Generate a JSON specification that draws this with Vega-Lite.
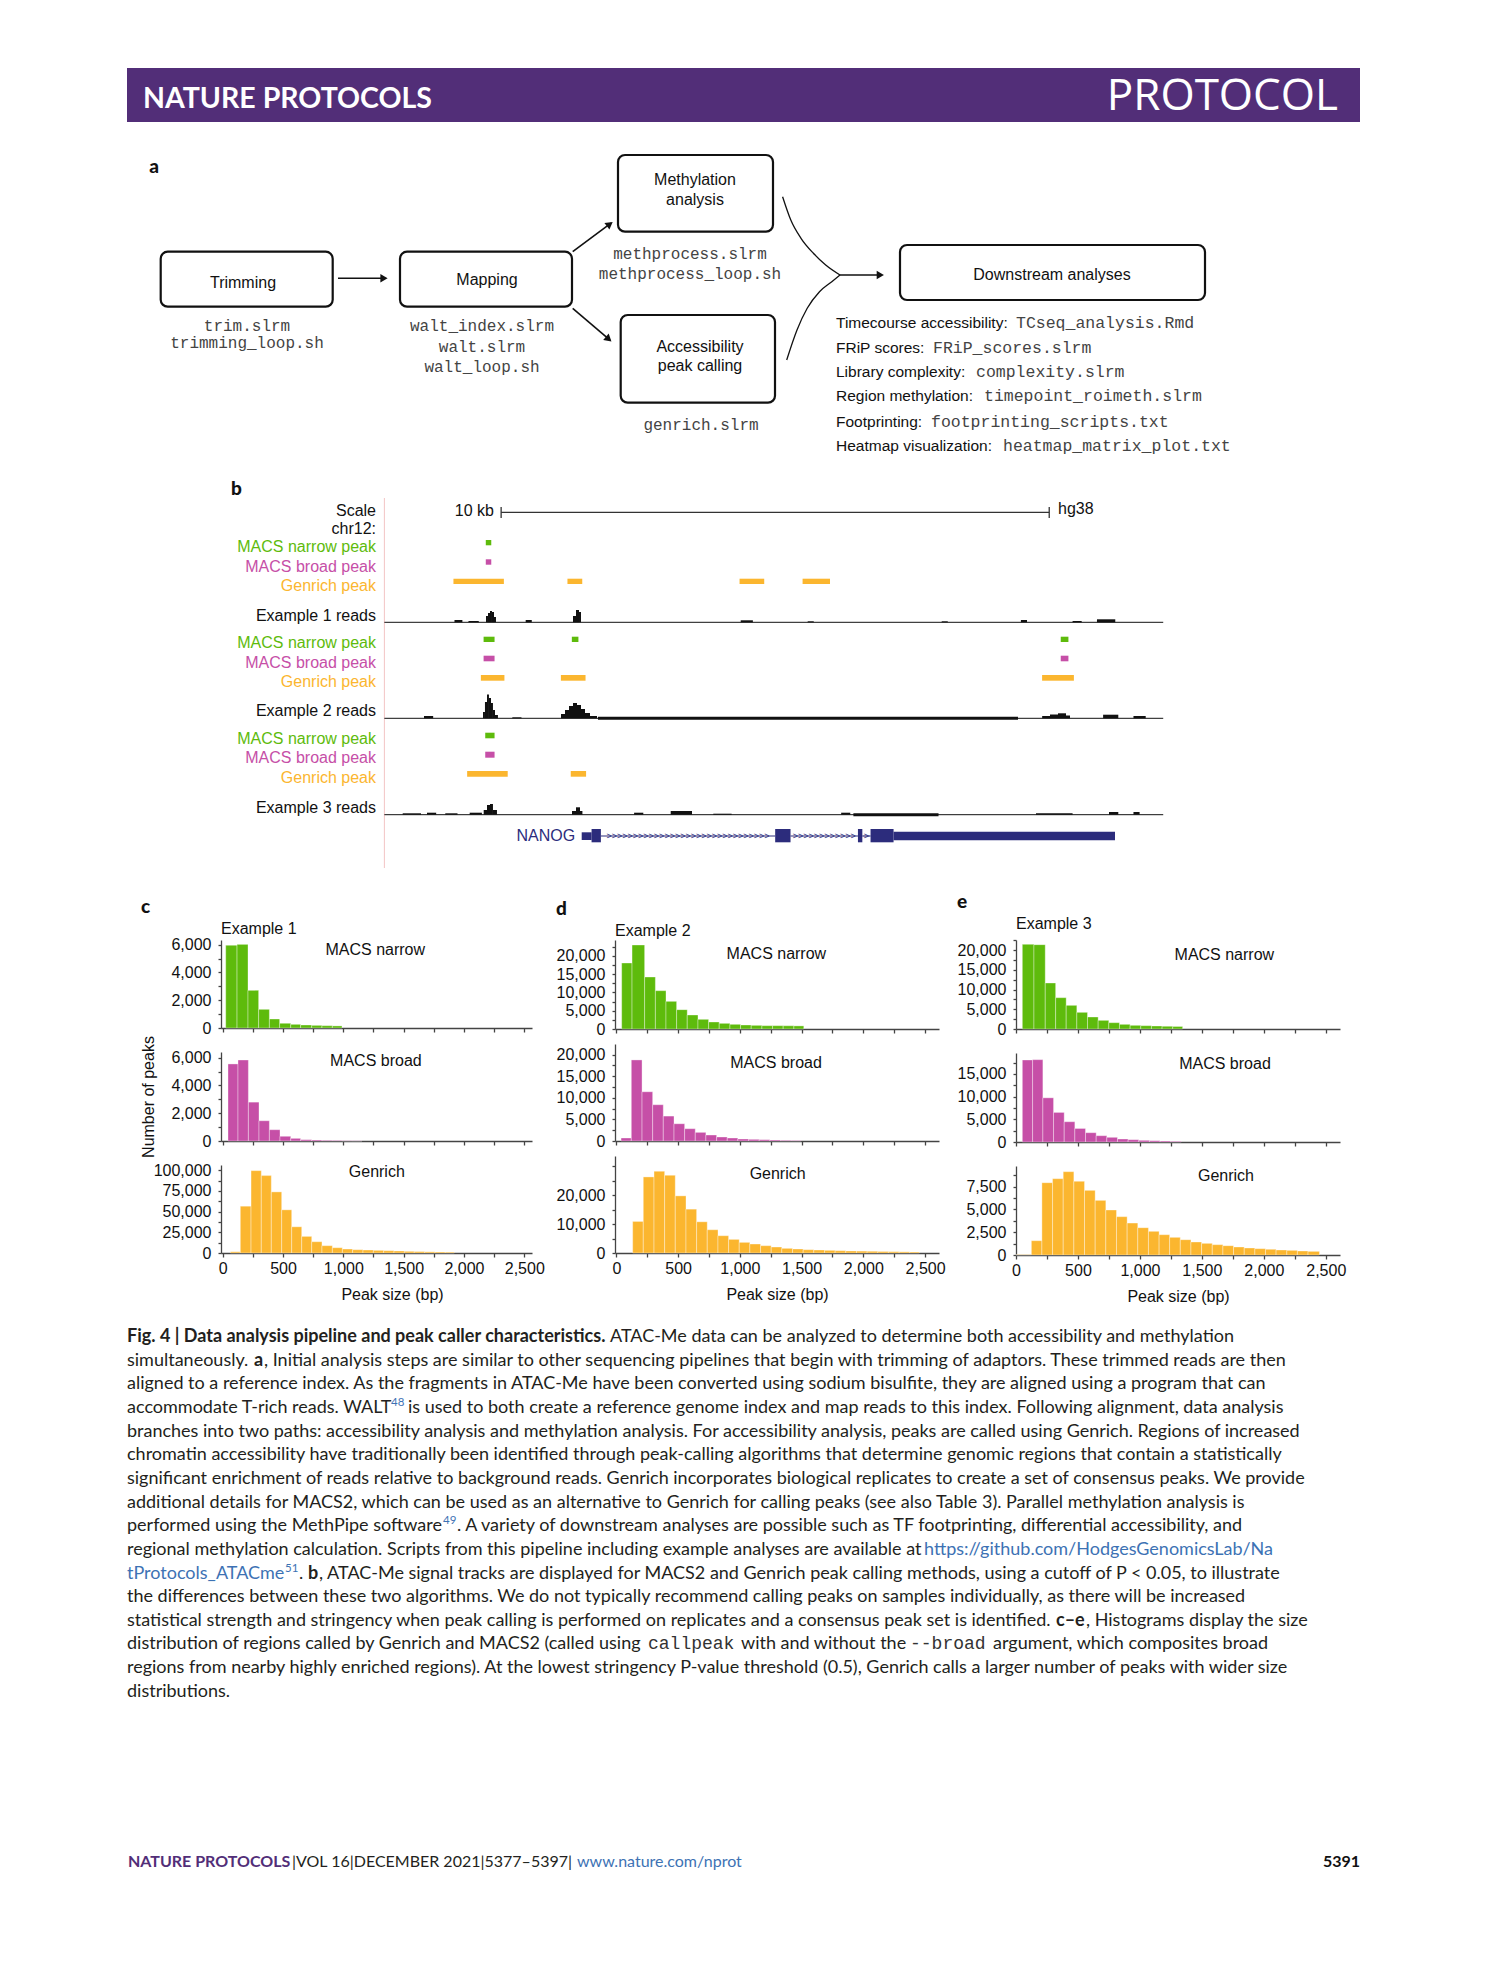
{
"$schema": "https://vega.github.io/schema/vega-lite/v6.json",
"background": "white",
"padding": {"left": 127, "top": 68, "right": 5, "bottom": 5},
"config": {
 "view": {"stroke": null},
 "font": "Liberation Sans",
 "axis": {"grid": false, "domainColor": "#444444", "tickColor": "#444444", "domainWidth": 1.3, "tickWidth": 1.3, "labelColor": "#111111", "labelFont": "Liberation Sans", "labelFontSize": 16, "titleFont": "Liberation Sans", "titleFontSize": 16, "titleFontWeight": "normal", "titleColor": "#111111", "labelOverlap": false, "labelFlush": false},
 "axisX": {"tickSize": 4, "labelPadding": 3, "titlePadding": 10, "labelOverlap": false},
 "axisY": {"tickSize": 3, "labelPadding": 7, "titlePadding": 14, "labelOverlap": false},
 "title": {"font": "Liberation Sans", "fontWeight": "normal", "fontSize": 16, "color": "#111111"}
},
"datasets": {
 "hist": [
  {"ex":1,"c":"n","s":25,"e":119,"n":5960},{"ex":1,"c":"n","s":119,"e":210,"n":6025},{"ex":1,"c":"n","s":210,"e":298,"n":2713},{"ex":1,"c":"n","s":298,"e":387,"n":1345},{"ex":1,"c":"n","s":387,"e":472,"n":648},{"ex":1,"c":"n","s":472,"e":564,"n":336},{"ex":1,"c":"n","s":564,"e":646,"n":264},{"ex":1,"c":"n","s":646,"e":738,"n":216},{"ex":1,"c":"n","s":738,"e":823,"n":190},{"ex":1,"c":"n","s":823,"e":909,"n":168},{"ex":1,"c":"n","s":909,"e":989,"n":150},
  {"ex":1,"c":"b","s":44,"e":127,"n":5544},{"ex":1,"c":"b","s":127,"e":213,"n":5830},{"ex":1,"c":"b","s":213,"e":301,"n":2796},{"ex":1,"c":"b","s":301,"e":387,"n":1458},{"ex":1,"c":"b","s":387,"e":475,"n":812},{"ex":1,"c":"b","s":475,"e":564,"n":335},{"ex":1,"c":"b","s":564,"e":646,"n":191},{"ex":1,"c":"b","s":646,"e":738,"n":96},{"ex":1,"c":"b","s":738,"e":823,"n":72},{"ex":1,"c":"b","s":823,"e":909,"n":48},{"ex":1,"c":"b","s":909,"e":989,"n":40},{"ex":1,"c":"b","s":989,"e":1072,"n":20},{"ex":1,"c":"b","s":1072,"e":1155,"n":15},
  {"ex":1,"c":"g","s":64,"e":146,"n":1500},{"ex":1,"c":"g","s":146,"e":235,"n":56600},{"ex":1,"c":"g","s":235,"e":320,"n":99600},{"ex":1,"c":"g","s":320,"e":403,"n":93600},{"ex":1,"c":"g","s":403,"e":489,"n":73900},{"ex":1,"c":"g","s":489,"e":572,"n":52200},{"ex":1,"c":"g","s":572,"e":655,"n":31700},{"ex":1,"c":"g","s":655,"e":738,"n":20100},{"ex":1,"c":"g","s":738,"e":823,"n":13650},{"ex":1,"c":"g","s":823,"e":909,"n":8850},{"ex":1,"c":"g","s":909,"e":992,"n":6400},{"ex":1,"c":"g","s":992,"e":1077,"n":4800},{"ex":1,"c":"g","s":1077,"e":1163,"n":4000},{"ex":1,"c":"g","s":1163,"e":1249,"n":3600},{"ex":1,"c":"g","s":1249,"e":1334,"n":3200},{"ex":1,"c":"g","s":1334,"e":1420,"n":2800},{"ex":1,"c":"g","s":1420,"e":1506,"n":2400},{"ex":1,"c":"g","s":1506,"e":1588,"n":2000},{"ex":1,"c":"g","s":1588,"e":1674,"n":1700},{"ex":1,"c":"g","s":1674,"e":1760,"n":1400},{"ex":1,"c":"g","s":1760,"e":1845,"n":1200},{"ex":1,"c":"g","s":1845,"e":1920,"n":1000},
  {"ex":2,"c":"n","s":43,"e":127,"n":18080},{"ex":2,"c":"n","s":127,"e":229,"n":23010},{"ex":2,"c":"n","s":229,"e":316,"n":14250},{"ex":2,"c":"n","s":316,"e":402,"n":10500},{"ex":2,"c":"n","s":402,"e":488,"n":7580},{"ex":2,"c":"n","s":488,"e":574,"n":5300},{"ex":2,"c":"n","s":574,"e":661,"n":3840},{"ex":2,"c":"n","s":661,"e":747,"n":2650},{"ex":2,"c":"n","s":747,"e":833,"n":1920},{"ex":2,"c":"n","s":833,"e":920,"n":1550},{"ex":2,"c":"n","s":920,"e":1006,"n":1280},{"ex":2,"c":"n","s":1006,"e":1092,"n":1100},{"ex":2,"c":"n","s":1092,"e":1179,"n":1000},{"ex":2,"c":"n","s":1179,"e":1265,"n":910},{"ex":2,"c":"n","s":1265,"e":1351,"n":910},{"ex":2,"c":"n","s":1351,"e":1438,"n":880},{"ex":2,"c":"n","s":1438,"e":1518,"n":850},
  {"ex":2,"c":"b","s":38,"e":121,"n":692},{"ex":2,"c":"b","s":121,"e":208,"n":18770},{"ex":2,"c":"b","s":208,"e":294,"n":11400},{"ex":2,"c":"b","s":294,"e":380,"n":8400},{"ex":2,"c":"b","s":380,"e":467,"n":5770},{"ex":2,"c":"b","s":467,"e":553,"n":4000},{"ex":2,"c":"b","s":553,"e":639,"n":2850},{"ex":2,"c":"b","s":639,"e":725,"n":2000},{"ex":2,"c":"b","s":725,"e":812,"n":1385},{"ex":2,"c":"b","s":812,"e":898,"n":923},{"ex":2,"c":"b","s":898,"e":984,"n":692},{"ex":2,"c":"b","s":984,"e":1071,"n":462},{"ex":2,"c":"b","s":1071,"e":1157,"n":385},{"ex":2,"c":"b","s":1157,"e":1243,"n":308},{"ex":2,"c":"b","s":1243,"e":1330,"n":231},{"ex":2,"c":"b","s":1330,"e":1416,"n":154},{"ex":2,"c":"b","s":1416,"e":1497,"n":120},
  {"ex":2,"c":"g","s":132,"e":218,"n":10920},{"ex":2,"c":"g","s":218,"e":305,"n":26320},{"ex":2,"c":"g","s":305,"e":391,"n":28280},{"ex":2,"c":"g","s":391,"e":477,"n":26900},{"ex":2,"c":"g","s":477,"e":564,"n":19770},{"ex":2,"c":"g","s":564,"e":650,"n":15170},{"ex":2,"c":"g","s":650,"e":736,"n":10800},{"ex":2,"c":"g","s":736,"e":823,"n":8050},{"ex":2,"c":"g","s":823,"e":909,"n":5980},{"ex":2,"c":"g","s":909,"e":995,"n":4710},{"ex":2,"c":"g","s":995,"e":1081,"n":3680},{"ex":2,"c":"g","s":1081,"e":1168,"n":3100},{"ex":2,"c":"g","s":1168,"e":1254,"n":2530},{"ex":2,"c":"g","s":1254,"e":1340,"n":2070},{"ex":2,"c":"g","s":1340,"e":1427,"n":1610},{"ex":2,"c":"g","s":1427,"e":1513,"n":1380},{"ex":2,"c":"g","s":1513,"e":1599,"n":1150},{"ex":2,"c":"g","s":1599,"e":1686,"n":1030},{"ex":2,"c":"g","s":1686,"e":1772,"n":920},{"ex":2,"c":"g","s":1772,"e":1858,"n":800},{"ex":2,"c":"g","s":1858,"e":1945,"n":690},{"ex":2,"c":"g","s":1945,"e":2031,"n":650},{"ex":2,"c":"g","s":2031,"e":2117,"n":575},{"ex":2,"c":"g","s":2117,"e":2203,"n":520},{"ex":2,"c":"g","s":2203,"e":2290,"n":460},{"ex":2,"c":"g","s":2290,"e":2376,"n":400},{"ex":2,"c":"g","s":2376,"e":2454,"n":340},
  {"ex":3,"c":"n","s":51,"e":145,"n":21430},{"ex":3,"c":"n","s":145,"e":236,"n":21350},{"ex":3,"c":"n","s":236,"e":320,"n":11650},{"ex":3,"c":"n","s":320,"e":405,"n":7930},{"ex":3,"c":"n","s":405,"e":491,"n":5990},{"ex":3,"c":"n","s":491,"e":577,"n":4220},{"ex":3,"c":"n","s":577,"e":663,"n":3040},{"ex":3,"c":"n","s":663,"e":749,"n":2190},{"ex":3,"c":"n","s":749,"e":835,"n":1600},{"ex":3,"c":"n","s":835,"e":921,"n":1180},{"ex":3,"c":"n","s":921,"e":1007,"n":930},{"ex":3,"c":"n","s":1007,"e":1093,"n":840},{"ex":3,"c":"n","s":1093,"e":1179,"n":760},{"ex":3,"c":"n","s":1179,"e":1265,"n":680},{"ex":3,"c":"n","s":1265,"e":1345,"n":640},
  {"ex":3,"c":"b","s":51,"e":134,"n":18080},{"ex":3,"c":"b","s":134,"e":217,"n":18150},{"ex":3,"c":"b","s":217,"e":303,"n":9740},{"ex":3,"c":"b","s":303,"e":389,"n":6520},{"ex":3,"c":"b","s":389,"e":475,"n":4470},{"ex":3,"c":"b","s":475,"e":561,"n":3000},{"ex":3,"c":"b","s":561,"e":647,"n":2050},{"ex":3,"c":"b","s":647,"e":733,"n":1390},{"ex":3,"c":"b","s":733,"e":819,"n":1030},{"ex":3,"c":"b","s":819,"e":905,"n":660},{"ex":3,"c":"b","s":905,"e":991,"n":510},{"ex":3,"c":"b","s":991,"e":1077,"n":370},{"ex":3,"c":"b","s":1077,"e":1163,"n":290},{"ex":3,"c":"b","s":1163,"e":1249,"n":220},{"ex":3,"c":"b","s":1249,"e":1334,"n":150},
  {"ex":3,"c":"g","s":0,"e":124,"n":40},{"ex":3,"c":"g","s":124,"e":209,"n":1570},{"ex":3,"c":"g","s":209,"e":295,"n":7940},{"ex":3,"c":"g","s":295,"e":381,"n":8380},{"ex":3,"c":"g","s":381,"e":467,"n":9150},{"ex":3,"c":"g","s":467,"e":553,"n":8090},{"ex":3,"c":"g","s":553,"e":639,"n":7100},{"ex":3,"c":"g","s":639,"e":725,"n":6000},{"ex":3,"c":"g","s":725,"e":811,"n":4940},{"ex":3,"c":"g","s":811,"e":897,"n":4210},{"ex":3,"c":"g","s":897,"e":983,"n":3510},{"ex":3,"c":"g","s":983,"e":1069,"n":3000},{"ex":3,"c":"g","s":1069,"e":1155,"n":2600},{"ex":3,"c":"g","s":1155,"e":1240,"n":2230},{"ex":3,"c":"g","s":1240,"e":1326,"n":1940},{"ex":3,"c":"g","s":1326,"e":1412,"n":1680},{"ex":3,"c":"g","s":1412,"e":1498,"n":1430},{"ex":3,"c":"g","s":1498,"e":1584,"n":1280},{"ex":3,"c":"g","s":1584,"e":1670,"n":1135},{"ex":3,"c":"g","s":1670,"e":1756,"n":1025},{"ex":3,"c":"g","s":1756,"e":1842,"n":880},{"ex":3,"c":"g","s":1842,"e":1928,"n":770},{"ex":3,"c":"g","s":1928,"e":2014,"n":695},{"ex":3,"c":"g","s":2014,"e":2099,"n":620},{"ex":3,"c":"g","s":2099,"e":2186,"n":550},{"ex":3,"c":"g","s":2186,"e":2271,"n":510},{"ex":3,"c":"g","s":2271,"e":2357,"n":440},{"ex":3,"c":"g","s":2357,"e":2449,"n":400}
 ],
 "caption": [
  {"l":1,"x":0,"t":"Fig. 4 | Data analysis pipeline and peak caller characteristics.","k":"bold"},
  {"l":1,"x":483,"t":"ATAC-Me data can be analyzed to determine both accessibility and methylation","k":"body"},
  {"l":2,"x":0,"t":"simultaneously.","k":"body"},
  {"l":2,"x":127,"t":"a","k":"bold"},
  {"l":2,"x":137,"t":", Initial analysis steps are similar to other sequencing pipelines that begin with trimming of adaptors. These trimmed reads are then","k":"body"},
  {"l":3,"x":0,"t":"aligned to a reference index. As the fragments in ATAC-Me have been converted using sodium bisulfite, they are aligned using a program that can","k":"body"},
  {"l":4,"x":0,"t":"accommodate T-rich reads. WALT","k":"body"},
  {"l":4,"x":264,"t":"48","k":"sup"},
  {"l":4,"x":281,"t":"is used to both create a reference genome index and map reads to this index. Following alignment, data analysis","k":"body"},
  {"l":5,"x":0,"t":"branches into two paths: accessibility analysis and methylation analysis. For accessibility analysis, peaks are called using Genrich. Regions of increased","k":"body"},
  {"l":6,"x":0,"t":"chromatin accessibility have traditionally been identified through peak-calling algorithms that determine genomic regions that contain a statistically","k":"body"},
  {"l":7,"x":0,"t":"significant enrichment of reads relative to background reads. Genrich incorporates biological replicates to create a set of consensus peaks. We provide","k":"body"},
  {"l":8,"x":0,"t":"additional details for MACS2, which can be used as an alternative to Genrich for calling peaks (see also Table 3). Parallel methylation analysis is","k":"body"},
  {"l":9,"x":0,"t":"performed using the MethPipe software","k":"body"},
  {"l":9,"x":316,"t":"49","k":"sup"},
  {"l":9,"x":330,"t":". A variety of downstream analyses are possible such as TF footprinting, differential accessibility, and","k":"body"},
  {"l":10,"x":0,"t":"regional methylation calculation. Scripts from this pipeline including example analyses are available at","k":"body"},
  {"l":10,"x":797,"t":"https://github.com/HodgesGenomicsLab/Na","k":"link"},
  {"l":11,"x":0,"t":"tProtocols_ATACme","k":"link"},
  {"l":11,"x":158,"t":"51","k":"sup"},
  {"l":11,"x":172,"t":".","k":"body"},
  {"l":11,"x":181,"t":"b","k":"bold"},
  {"l":11,"x":192,"t":", ATAC-Me signal tracks are displayed for MACS2 and Genrich peak calling methods, using a cutoff of P < 0.05, to illustrate","k":"body"},
  {"l":12,"x":0,"t":"the differences between these two algorithms. We do not typically recommend calling peaks on samples individually, as there will be increased","k":"body"},
  {"l":13,"x":0,"t":"statistical strength and stringency when peak calling is performed on replicates and a consensus peak set is identified.","k":"body"},
  {"l":13,"x":929,"t":"c–e","k":"bold"},
  {"l":13,"x":959,"t":", Histograms display the size","k":"body"},
  {"l":14,"x":0,"t":"distribution of regions called by Genrich and MACS2 (called using","k":"body"},
  {"l":14,"x":521,"t":"callpeak","k":"mono"},
  {"l":14,"x":614,"t":"with and without the","k":"body"},
  {"l":14,"x":783,"t":"--broad","k":"mono"},
  {"l":14,"x":866,"t":"argument, which composites broad","k":"body"},
  {"l":15,"x":0,"t":"regions from nearby highly enriched regions). At the lowest stringency P-value threshold (0.5), Genrich calls a larger number of peaks with wider size","k":"body"},
  {"l":16,"x":0,"t":"distributions.","k":"body"}
 ]
},
"spacing": 0,
"vconcat": [
 {
  "width": 1233, "height": 54,
  "view": {"fill": "#522E78", "stroke": null},
  "layer": [
   {"data": {"values": [{"t": "NATURE PROTOCOLS"}]},
    "mark": {"type": "text", "font": "Lato", "fontWeight": "bold", "fontSize": 28.5, "color": "#ffffff", "align": "left", "baseline": "middle"},
    "encoding": {"text": {"field": "t"}, "x": {"datum": 16, "type": "quantitative", "scale": {"domain": [0, 1233], "nice": false, "zero": false}, "axis": null}, "y": {"datum": 30.5, "type": "quantitative", "scale": {"domain": [0, 54], "nice": false, "zero": false, "reverse": true}, "axis": null}}},
   {"data": {"values": [{"t": "PROTOCOL"}]},
    "mark": {"type": "text", "font": "Open Sans", "fontWeight": "normal", "fontSize": 44, "color": "#ffffff", "align": "right", "baseline": "middle"},
    "encoding": {"text": {"field": "t"}, "x": {"datum": 1211, "type": "quantitative", "scale": {"domain": [0, 1233], "nice": false, "zero": false}, "axis": null}, "y": {"datum": 28.5, "type": "quantitative", "scale": {"domain": [0, 54], "nice": false, "zero": false, "reverse": true}, "axis": null}}}
  ]
 },
 {
  "width": 1233, "height": 348,
  "encoding": {
   "x": {"field": "x", "type": "quantitative", "scale": {"domain": [0, 1233], "nice": false, "zero": false}, "axis": null},
   "y": {"field": "y", "type": "quantitative", "scale": {"domain": [0, 348], "nice": false, "zero": false, "reverse": true}, "axis": null}
  },
  "layer": [
   {"data": {"values": [{"x":33.7,"x2":205.7,"y":129.7,"y2":184.7},{"x":273,"x2":445,"y":129.7,"y2":184.7},{"x":491,"x2":646,"y":33,"y2":109.7},{"x":493.7,"x2":648,"y":193,"y2":280.7},{"x":773,"x2":1078,"y":123,"y2":178}]},
    "mark": {"type": "rect", "fill": "#ffffff", "stroke": "#111111", "strokeWidth": 2.2, "cornerRadius": 7},
    "encoding": {"x2": {"field": "x2"}, "y2": {"field": "y2"}}},
   {"data": {"values": [{"x":211,"y":156.3,"x2":258,"y2":156.3},{"x":445.7,"y":129.7,"x2":484,"y2":101.2},{"x":445.7,"y":186.3,"x2":483,"y2":218.2},{"x":713,"y":153,"x2":754,"y2":153}]},
    "mark": {"type": "rule", "strokeWidth": 1.6, "color": "#111111"},
    "encoding": {"x2": {"field": "x2"}, "y2": {"field": "y2"}}},
   {"data": {"values": [{"g":1,"i":1,"x":655.6,"y":74.7},{"g":1,"i":2,"x":663.8,"y":98},{"g":1,"i":3,"x":674,"y":116.3},{"g":1,"i":4,"x":686.4,"y":131.3},{"g":1,"i":5,"x":698.7,"y":143},{"g":1,"i":6,"x":713,"y":153},{"g":2,"i":1,"x":659.7,"y":238},{"g":2,"i":2,"x":670,"y":208},{"g":2,"i":3,"x":680.2,"y":186.3},{"g":2,"i":4,"x":692.5,"y":169.7},{"g":2,"i":5,"x":704.8,"y":159.7},{"g":2,"i":6,"x":713,"y":153}]},
    "mark": {"type": "line", "interpolate": "monotone", "strokeWidth": 1.3, "color": "#111111"},
    "encoding": {"detail": {"field": "g", "type": "nominal"}, "order": {"field": "i", "type": "quantitative"}}},
   {"data": {"values": [{"x":257,"y":156.3,"a":0},{"x":482.8,"y":102.1,"a":-36.7},{"x":481.7,"y":217.1,"a":40.6},{"x":753.3,"y":153,"a":0}]},
    "mark": {"type": "point", "shape": "triangle-right", "filled": true, "color": "#111111", "size": 70, "opacity": 1},
    "encoding": {"angle": {"field": "a", "type": "quantitative", "scale": null}}},
   {"data": {"values": [{"t":"Trimming","x":116,"y":161},{"t":"Mapping","x":360,"y":158},{"t":"Methylation","x":568,"y":58},{"t":"analysis","x":568,"y":78},{"t":"Accessibility","x":573,"y":225},{"t":"peak calling","x":573,"y":244},{"t":"Downstream analyses","x":925,"y":153}]},
    "mark": {"type": "text", "font": "Liberation Sans", "fontSize": 16, "color": "#111111", "align": "center", "baseline": "middle"},
    "encoding": {"text": {"field": "t"}}},
   {"data": {"values": [{"t":"trim.slrm","x":120,"y":204},{"t":"trimming_loop.sh","x":120,"y":221},{"t":"walt_index.slrm","x":355,"y":204},{"t":"walt.slrm","x":355,"y":225},{"t":"walt_loop.sh","x":355,"y":245},{"t":"methprocess.slrm","x":563,"y":132},{"t":"methprocess_loop.sh","x":563,"y":152},{"t":"genrich.slrm","x":574,"y":303}]},
    "mark": {"type": "text", "font": "Liberation Mono", "fontSize": 16, "color": "#444444", "align": "center", "baseline": "middle"},
    "encoding": {"text": {"field": "t"}}},
   {"data": {"values": [{"t":"Timecourse accessibility:","x":709,"y":201.3},{"t":"FRiP scores:","x":709,"y":226.3},{"t":"Library complexity:","x":709,"y":250.3},{"t":"Region methylation:","x":709,"y":274.3},{"t":"Footprinting:","x":709,"y":299.5},{"t":"Heatmap visualization:","x":709,"y":323.5}]},
    "mark": {"type": "text", "font": "Liberation Sans", "fontSize": 15.5, "color": "#111111", "align": "left", "baseline": "middle"},
    "encoding": {"text": {"field": "t"}}},
   {"data": {"values": [{"t":"TCseq_analysis.Rmd","x":889,"y":201.3},{"t":"FRiP_scores.slrm","x":806,"y":226.3},{"t":"complexity.slrm","x":849,"y":250.3},{"t":"timepoint_roimeth.slrm","x":857,"y":274.3},{"t":"footprinting_scripts.txt","x":804,"y":299.5},{"t":"heatmap_matrix_plot.txt","x":876,"y":323.5}]},
    "mark": {"type": "text", "font": "Liberation Mono", "fontSize": 16.5, "color": "#444444", "align": "left", "baseline": "middle"},
    "encoding": {"text": {"field": "t"}}},
   {"data": {"values": [{"t":"a","x":27,"y":45}]},
    "mark": {"type": "text", "font": "Lato", "fontWeight": 900, "fontSize": 19, "color": "#111111", "align": "center", "baseline": "middle"},
    "encoding": {"text": {"field": "t"}}}
  ]
 },
 {
  "width": 1233, "height": 423,
  "layer": [
   {"data": {"values": [{"s":0,"y0":28,"y1":398}]},
    "mark": {"type": "rule", "color": "#f3c4c4", "strokeWidth": 1},
    "encoding": {"x": {"field": "s", "type": "quantitative", "scale": {"domain": [-4.696, 17.8], "nice": false, "zero": false}, "axis": null}, "y": {"field": "y0", "type": "quantitative", "scale": {"domain": [0, 423], "nice": false, "zero": false, "reverse": true}, "axis": null}, "y2": {"field": "y1"}}},
   {"data": {"values": [{"s":2.13,"e":12.13,"y":42.3}]},
    "mark": {"type": "rule", "color": "#333333", "strokeWidth": 1.3},
    "encoding": {"x": {"field": "s", "type": "quantitative", "scale": {"domain": [-4.696, 17.8], "nice": false, "zero": false}, "axis": null}, "x2": {"field": "e"}, "y": {"field": "y", "type": "quantitative", "scale": {"domain": [0, 423], "nice": false, "zero": false, "reverse": true}, "axis": null}}},
   {"data": {"values": [{"s":2.13,"y0":37,"y1":48},{"s":12.13,"y0":37,"y1":48}]},
    "mark": {"type": "rule", "color": "#333333", "strokeWidth": 1.3},
    "encoding": {"x": {"field": "s", "type": "quantitative", "scale": {"domain": [-4.696, 17.8], "nice": false, "zero": false}, "axis": null}, "y": {"field": "y0", "type": "quantitative", "scale": {"domain": [0, 423], "nice": false, "zero": false, "reverse": true}, "axis": null}, "y2": {"field": "y1"}}},
   {"data": {"values": [
     {"ex":1,"k":"n","s":1.85,"e":1.95,"y0":70,"y1":75.3},{"ex":1,"k":"b","s":1.85,"e":1.95,"y0":89.3,"y1":94.7},
     {"ex":1,"k":"g","s":1.26,"e":2.18,"y0":108.7,"y1":114},{"ex":1,"k":"g","s":3.34,"e":3.61,"y0":108.7,"y1":114},{"ex":1,"k":"g","s":6.48,"e":6.93,"y0":108.7,"y1":114},{"ex":1,"k":"g","s":7.63,"e":8.13,"y0":108.7,"y1":114},
     {"ex":2,"k":"n","s":1.81,"e":2.01,"y0":166.7,"y1":172},{"ex":2,"k":"n","s":3.42,"e":3.54,"y0":166.7,"y1":172},{"ex":2,"k":"n","s":12.34,"e":12.48,"y0":166.7,"y1":172},
     {"ex":2,"k":"b","s":1.81,"e":2.01,"y0":185.7,"y1":191.3},{"ex":2,"k":"b","s":12.34,"e":12.48,"y0":185.7,"y1":191.3},
     {"ex":2,"k":"g","s":1.76,"e":2.19,"y0":205,"y1":210.7},{"ex":2,"k":"g","s":3.22,"e":3.67,"y0":205,"y1":210.7},{"ex":2,"k":"g","s":12.0,"e":12.58,"y0":205,"y1":210.7},
     {"ex":3,"k":"n","s":1.84,"e":2.01,"y0":262.7,"y1":268.3},{"ex":3,"k":"b","s":1.84,"e":2.01,"y0":281.7,"y1":287.7},
     {"ex":3,"k":"g","s":1.51,"e":2.25,"y0":301,"y1":306.7},{"ex":3,"k":"g","s":3.40,"e":3.68,"y0":301,"y1":306.7}]},
    "mark": {"type": "rect"},
    "encoding": {"x": {"field": "s", "type": "quantitative", "scale": {"domain": [-4.696, 17.8], "nice": false, "zero": false}, "axis": null}, "x2": {"field": "e"}, "y": {"field": "y0", "type": "quantitative", "scale": {"domain": [0, 423], "nice": false, "zero": false, "reverse": true}, "axis": null}, "y2": {"field": "y1"},
     "color": {"field": "k", "type": "nominal", "scale": {"domain": ["n","b","g","o","gene"], "range": ["#5EBB0C","#C64FA7","#FBB62F","#111111","#2C2C7C"]}, "legend": null}}},
   {"data": {"values": [{"ex":1,"s":0,"e":14.21,"y":152.3},{"ex":2,"s":0,"e":14.21,"y":248.3},{"ex":3,"s":0,"e":14.21,"y":344.7}]},
    "mark": {"type": "rule", "color": "#111111", "strokeWidth": 1},
    "encoding": {"x": {"field": "s", "type": "quantitative", "scale": {"domain": [-4.696, 17.8], "nice": false, "zero": false}, "axis": null}, "x2": {"field": "e"}, "y": {"field": "y", "type": "quantitative", "scale": {"domain": [0, 423], "nice": false, "zero": false, "reverse": true}, "axis": null}}},
   {"data": {"values": [{"ex":2,"s":3.897,"e":11.56,"y":248.3},{"ex":3,"s":8.557,"e":10.11,"y":344.7}]},
    "mark": {"type": "rule", "color": "#111111", "strokeWidth": 3},
    "encoding": {"x": {"field": "s", "type": "quantitative", "scale": {"domain": [-4.696, 17.8], "nice": false, "zero": false}, "axis": null}, "x2": {"field": "e"}, "y": {"field": "y", "type": "quantitative", "scale": {"domain": [0, 423], "nice": false, "zero": false, "reverse": true}, "axis": null}}},
   {"data": {"values": [
     {"ex":1,"s":1.854,"e":1.890,"y0":152.3,"y1":146},{"ex":1,"s":1.890,"e":1.927,"y0":152.3,"y1":143},{"ex":1,"s":1.927,"e":1.963,"y0":152.3,"y1":141},{"ex":1,"s":1.963,"e":2.000,"y0":152.3,"y1":142},{"ex":1,"s":2.000,"e":2.036,"y0":152.3,"y1":147},
     {"ex":1,"s":3.441,"e":3.496,"y0":152.3,"y1":146},{"ex":1,"s":3.496,"e":3.551,"y0":152.3,"y1":140},{"ex":1,"s":3.551,"e":3.587,"y0":152.3,"y1":142},
     {"ex":1,"s":1.279,"e":1.423,"y0":152.3,"y1":150},{"ex":1,"s":1.534,"e":1.722,"y0":152.3,"y1":151},{"ex":1,"s":2.578,"e":2.689,"y0":152.3,"y1":150},{"ex":1,"s":6.501,"e":6.723,"y0":152.3,"y1":150.3},{"ex":1,"s":7.723,"e":7.834,"y0":152.3,"y1":151.3},{"ex":1,"s":10.168,"e":10.279,"y0":152.3,"y1":151.3},{"ex":1,"s":11.613,"e":11.724,"y0":152.3,"y1":150},{"ex":1,"s":12.556,"e":12.722,"y0":152.3,"y1":151},{"ex":1,"s":13.001,"e":13.335,"y0":152.3,"y1":149.3},
     {"ex":2,"s":1.799,"e":1.835,"y0":248.3,"y1":242},{"ex":2,"s":1.835,"e":1.872,"y0":248.3,"y1":232},{"ex":2,"s":1.872,"e":1.908,"y0":248.3,"y1":224.5},{"ex":2,"s":1.908,"e":1.945,"y0":248.3,"y1":228},{"ex":2,"s":1.945,"e":1.981,"y0":248.3,"y1":233},{"ex":2,"s":1.981,"e":2.018,"y0":248.3,"y1":240},{"ex":2,"s":2.018,"e":2.072,"y0":248.3,"y1":245},
     {"ex":2,"s":3.222,"e":3.295,"y0":248.3,"y1":244},{"ex":2,"s":3.295,"e":3.368,"y0":248.3,"y1":240},{"ex":2,"s":3.368,"e":3.441,"y0":248.3,"y1":236},{"ex":2,"s":3.441,"e":3.514,"y0":248.3,"y1":233},{"ex":2,"s":3.514,"e":3.587,"y0":248.3,"y1":235},{"ex":2,"s":3.587,"e":3.660,"y0":248.3,"y1":239},{"ex":2,"s":3.660,"e":3.751,"y0":248.3,"y1":243},{"ex":2,"s":3.751,"e":3.879,"y0":248.3,"y1":246},
     {"ex":2,"s":0.723,"e":0.890,"y0":248.3,"y1":246},{"ex":2,"s":2.334,"e":2.501,"y0":248.3,"y1":247.3},{"ex":2,"s":7.947,"e":8.112,"y0":248.3,"y1":247},
     {"ex":2,"s":12.001,"e":12.144,"y0":248.3,"y1":246},{"ex":2,"s":12.144,"e":12.290,"y0":248.3,"y1":244.5},{"ex":2,"s":12.290,"e":12.436,"y0":248.3,"y1":243.3},{"ex":2,"s":12.436,"e":12.509,"y0":248.3,"y1":245.5},
     {"ex":2,"s":13.113,"e":13.390,"y0":248.3,"y1":244.7},{"ex":2,"s":13.667,"e":13.890,"y0":248.3,"y1":246},
     {"ex":3,"s":1.812,"e":1.872,"y0":344.7,"y1":340},{"ex":3,"s":1.872,"e":1.927,"y0":344.7,"y1":335},{"ex":3,"s":1.927,"e":1.981,"y0":344.7,"y1":334},{"ex":3,"s":1.981,"e":2.054,"y0":344.7,"y1":340},
     {"ex":3,"s":3.423,"e":3.496,"y0":344.7,"y1":341},{"ex":3,"s":3.496,"e":3.569,"y0":344.7,"y1":337.3},{"ex":3,"s":3.569,"e":3.613,"y0":344.7,"y1":341},
     {"ex":3,"s":0.334,"e":0.668,"y0":344.7,"y1":343.3},{"ex":3,"s":0.777,"e":0.945,"y0":344.7,"y1":342.7},{"ex":3,"s":1.111,"e":1.334,"y0":344.7,"y1":343.3},{"ex":3,"s":1.556,"e":1.779,"y0":344.7,"y1":342.7},{"ex":3,"s":4.556,"e":4.724,"y0":344.7,"y1":342.7},{"ex":3,"s":5.224,"e":5.612,"y0":344.7,"y1":341},{"ex":3,"s":6.001,"e":6.335,"y0":344.7,"y1":343.7},{"ex":3,"s":8.334,"e":8.500,"y0":344.7,"y1":342.7},{"ex":3,"s":11.888,"e":12.556,"y0":344.7,"y1":343.3},{"ex":3,"s":13.220,"e":13.390,"y0":344.7,"y1":342},{"ex":3,"s":13.667,"e":13.779,"y0":344.7,"y1":342}]},
    "mark": {"type": "rect", "color": "#111111"},
    "encoding": {"x": {"field": "s", "type": "quantitative", "scale": {"domain": [-4.696, 17.8], "nice": false, "zero": false}, "axis": null}, "x2": {"field": "e"}, "y": {"field": "y0", "type": "quantitative", "scale": {"domain": [0, 423], "nice": false, "zero": false, "reverse": true}, "axis": null}, "y2": {"field": "y1"}}},
   {"data": {"values": [{"s":3.95,"e":7.13,"y":366},{"s":7.41,"e":8.64,"y":366},{"s":8.72,"e":8.87,"y":366}]},
    "mark": {"type": "rule", "color": "#2C2C7C", "strokeWidth": 1.2},
    "encoding": {"x": {"field": "s", "type": "quantitative", "scale": {"domain": [-4.696, 17.8], "nice": false, "zero": false}, "axis": null}, "x2": {"field": "e"}, "y": {"field": "y", "type": "quantitative", "scale": {"domain": [0, 423], "nice": false, "zero": false, "reverse": true}, "axis": null}}},
   {"data": {"values": [{"s":3.60,"e":3.78,"y0":362.3,"y1":370},{"s":3.78,"e":3.95,"y0":359,"y1":372.3},{"s":7.13,"e":7.41,"y0":359,"y1":372.3},{"s":8.64,"e":8.72,"y0":359,"y1":372.3},{"s":8.87,"e":9.29,"y0":359,"y1":372.3},{"s":9.29,"e":13.33,"y0":361.7,"y1":370.3}]},
    "mark": {"type": "rect", "color": "#2C2C7C"},
    "encoding": {"x": {"field": "s", "type": "quantitative", "scale": {"domain": [-4.696, 17.8], "nice": false, "zero": false}, "axis": null}, "x2": {"field": "e"}, "y": {"field": "y0", "type": "quantitative", "scale": {"domain": [0, 423], "nice": false, "zero": false, "reverse": true}, "axis": null}, "y2": {"field": "y1"}}},
   {"data": {"values": [{"t":">>>>>>>>>>>>>>>>>>>>>>>>>>>>>>>","x":5.54,"y":366},{"t":">>>>>>>>>>>>","x":8.025,"y":366},{"t":">","x":8.795,"y":366}]},
    "mark": {"type": "text", "font": "Liberation Sans", "fontSize": 9, "color": "#2C2C7C", "align": "center", "baseline": "middle"},
    "encoding": {"text": {"field": "t"}, "x": {"field": "x", "type": "quantitative", "scale": {"domain": [-4.696, 17.8], "nice": false, "zero": false}, "axis": null}, "y": {"field": "y", "type": "quantitative", "scale": {"domain": [0, 423], "nice": false, "zero": false, "reverse": true}, "axis": null}}},
   {"data": {"values": [
     {"t":"Scale","k":"o","x":-0.153,"y":40.7},{"t":"chr12:","k":"o","x":-0.153,"y":59},
     {"t":"MACS narrow peak","k":"n","x":-0.153,"y":76.7},{"t":"MACS broad peak","k":"b","x":-0.153,"y":96.7},{"t":"Genrich peak","k":"g","x":-0.153,"y":116},{"t":"Example 1 reads","k":"o","x":-0.153,"y":146},
     {"t":"MACS narrow peak","k":"n","x":-0.153,"y":172.7},{"t":"MACS broad peak","k":"b","x":-0.153,"y":192.7},{"t":"Genrich peak","k":"g","x":-0.153,"y":211.7},{"t":"Example 2 reads","k":"o","x":-0.153,"y":240.7},
     {"t":"MACS narrow peak","k":"n","x":-0.153,"y":269.3},{"t":"MACS broad peak","k":"b","x":-0.153,"y":288.3},{"t":"Genrich peak","k":"g","x":-0.153,"y":307.7},{"t":"Example 3 reads","k":"o","x":-0.153,"y":337.7},
     {"t":"10 kb","k":"o","x":2.0,"y":40.7},{"t":"NANOG","k":"gene","x":3.48,"y":366}]},
    "mark": {"type": "text", "font": "Liberation Sans", "fontSize": 16, "align": "right", "baseline": "middle"},
    "encoding": {"text": {"field": "t"}, "x": {"field": "x", "type": "quantitative", "scale": {"domain": [-4.696, 17.8], "nice": false, "zero": false}, "axis": null}, "y": {"field": "y", "type": "quantitative", "scale": {"domain": [0, 423], "nice": false, "zero": false, "reverse": true}, "axis": null},
     "color": {"field": "k", "type": "nominal", "scale": {"domain": ["n","b","g","o","gene"], "range": ["#5EBB0C","#C64FA7","#FBB62F","#111111","#2C2C7C"]}, "legend": null}}},
   {"data": {"values": [{"t":"hg38","x":12.29,"y":39.3}]},
    "mark": {"type": "text", "font": "Liberation Sans", "fontSize": 16, "align": "left", "baseline": "middle", "color": "#111111"},
    "encoding": {"text": {"field": "t"}, "x": {"field": "x", "type": "quantitative", "scale": {"domain": [-4.696, 17.8], "nice": false, "zero": false}, "axis": null}, "y": {"field": "y", "type": "quantitative", "scale": {"domain": [0, 423], "nice": false, "zero": false, "reverse": true}, "axis": null}}},
   {"data": {"values": [{"t":"b","x":-2.698,"y":19}]},
    "mark": {"type": "text", "font": "Lato", "fontWeight": 900, "fontSize": 19, "align": "center", "baseline": "middle", "color": "#111111"},
    "encoding": {"text": {"field": "t"}, "x": {"field": "x", "type": "quantitative", "scale": {"domain": [-4.696, 17.8], "nice": false, "zero": false}, "axis": null}, "y": {"field": "y", "type": "quantitative", "scale": {"domain": [0, 423], "nice": false, "zero": false, "reverse": true}, "axis": null}}}
  ]
 },
 {
  "spacing": 11,
  "hconcat": [
   {"width": 2, "height": 10, "data": {"values": []}, "mark": "point", "encoding": {}},
   {
    "title": {"text": "c", "anchor": "start", "frame": "bounds", "font": "Lato", "fontWeight": 900, "fontSize": 19, "offset": 4},
    "spacing": 24, "bounds": "flush",
    "vconcat": [
     {"width": 311, "height": 88,
      "title": {"text": "Example 1", "anchor": "start", "frame": "group", "offset": 0},
      "resolve": {"scale": {"x": "independent", "y": "independent"}},
      "layer": [
       {"data": {"name": "hist"}, "transform": [{"filter": "datum.ex === 1 && datum.c === 'n'"}],
        "mark": {"type": "rect", "fill": "#5EBB0C", "stroke": "#ffffff", "strokeWidth": 0.7, "strokeOpacity": 0.5},
        "encoding": {
         "x": {"field": "s", "type": "quantitative", "scale": {"domain": [-14, 2564], "nice": false, "zero": false}, "axis": {"values": [0,250,500,750,1000,1250,1500,1750,2000,2250,2500], "labels": false, "title": null}},
         "x2": {"field": "e"},
         "y": {"field": "n", "type": "quantitative", "scale": {"domain": [0, 6340], "nice": false}, "axis": {"values": [0,1000,2000,3000,4000,5000,6000], "labelOverlap": false, "labelExpr": "datum.value % 2000 === 0 ? format(datum.value, ',') : ''", "title": null}},
         "y2": {"datum": 0}}},
       {"data": {"values": [{"t": "MACS narrow"}]}, "mark": {"type": "text", "fontSize": 16, "color": "#111111", "align": "center", "baseline": "middle"},
        "encoding": {"text": {"field": "t"}, "x": {"datum": 0.496, "type": "quantitative", "scale": {"domain": [0, 1], "nice": false, "zero": false}, "axis": null}, "y": {"datum": 0.89, "type": "quantitative", "scale": {"domain": [0, 1], "nice": false, "zero": false}, "axis": null}}}
      ]},
     {"width": 311, "height": 89,
      "resolve": {"scale": {"x": "independent", "y": "independent"}},
      "layer": [
       {"data": {"name": "hist"}, "transform": [{"filter": "datum.ex === 1 && datum.c === 'b'"}],
        "mark": {"type": "rect", "fill": "#C64FA7", "stroke": "#ffffff", "strokeWidth": 0.7, "strokeOpacity": 0.5},
        "encoding": {
         "x": {"field": "s", "type": "quantitative", "scale": {"domain": [-14, 2564], "nice": false, "zero": false}, "axis": {"values": [0,250,500,750,1000,1250,1500,1750,2000,2250,2500], "labels": false, "title": null}},
         "x2": {"field": "e"},
         "y": {"field": "n", "type": "quantitative", "scale": {"domain": [0, 6404], "nice": false}, "axis": {"values": [0,1000,2000,3000,4000,5000,6000], "labelOverlap": false, "labelExpr": "datum.value % 2000 === 0 ? format(datum.value, ',') : ''", "title": "Number of peaks"}},
         "y2": {"datum": 0}}},
       {"data": {"values": [{"t": "MACS broad"}]}, "mark": {"type": "text", "fontSize": 16, "color": "#111111", "align": "center", "baseline": "middle"},
        "encoding": {"text": {"field": "t"}, "x": {"datum": 0.498, "type": "quantitative", "scale": {"domain": [0, 1], "nice": false, "zero": false}, "axis": null}, "y": {"datum": 0.896, "type": "quantitative", "scale": {"domain": [0, 1], "nice": false, "zero": false}, "axis": null}}}
      ]},
     {"width": 311, "height": 88,
      "resolve": {"scale": {"x": "independent", "y": "independent"}},
      "layer": [
       {"data": {"name": "hist"}, "transform": [{"filter": "datum.ex === 1 && datum.c === 'g'"}],
        "mark": {"type": "rect", "fill": "#FBB62F", "stroke": "#ffffff", "strokeWidth": 0.7, "strokeOpacity": 0.5},
        "encoding": {
         "x": {"field": "s", "type": "quantitative", "scale": {"domain": [-14, 2564], "nice": false, "zero": false}, "axis": {"values": [0,250,500,750,1000,1250,1500,1750,2000,2250,2500], "labelOverlap": false, "labelExpr": "datum.value % 500 === 0 ? format(datum.value, ',') : ''", "title": "Peak size (bp)", "titleX": 171}},
         "x2": {"field": "e"},
         "y": {"field": "n", "type": "quantitative", "scale": {"domain": [0, 106425], "nice": false}, "axis": {"values": [0,12500,25000,37500,50000,62500,75000,87500,100000], "labelOverlap": false, "labelExpr": "datum.value % 25000 === 0 ? format(datum.value, ',') : ''", "title": null}},
         "y2": {"datum": 0}}},
       {"data": {"values": [{"t": "Genrich"}]}, "mark": {"type": "text", "fontSize": 16, "color": "#111111", "align": "center", "baseline": "middle"},
        "encoding": {"text": {"field": "t"}, "x": {"datum": 0.501, "type": "quantitative", "scale": {"domain": [0, 1], "nice": false, "zero": false}, "axis": null}, "y": {"datum": 0.924, "type": "quantitative", "scale": {"domain": [0, 1], "nice": false, "zero": false}, "axis": null}}}
      ]}
    ]
   },
   {
    "title": {"text": "d", "anchor": "start", "frame": "bounds", "font": "Lato", "fontWeight": 900, "fontSize": 19, "offset": 4},
    "spacing": 15, "bounds": "flush",
    "vconcat": [
     {"width": 324, "height": 89,
      "title": {"text": "Example 2", "anchor": "start", "frame": "group", "offset": 0},
      "resolve": {"scale": {"x": "independent", "y": "independent"}},
      "layer": [
       {"data": {"name": "hist"}, "transform": [{"filter": "datum.ex === 2 && datum.c === 'n'"}],
        "mark": {"type": "rect", "fill": "#5EBB0C", "stroke": "#ffffff", "strokeWidth": 0.7, "strokeOpacity": 0.5},
        "encoding": {
         "x": {"field": "s", "type": "quantitative", "scale": {"domain": [-11, 2613], "nice": false, "zero": false}, "axis": {"values": [0,250,500,750,1000,1250,1500,1750,2000,2250,2500], "labels": false, "title": null}},
         "x2": {"field": "e"},
         "y": {"field": "n", "type": "quantitative", "scale": {"domain": [0, 24383], "nice": false}, "axis": {"values": [0,2500,5000,7500,10000,12500,15000,17500,20000,22500], "labelOverlap": false, "labelExpr": "datum.value % 5000 === 0 ? format(datum.value, ',') : ''", "title": null}},
         "y2": {"datum": 0}}},
       {"data": {"values": [{"t": "MACS narrow"}]}, "mark": {"type": "text", "fontSize": 16, "color": "#111111", "align": "center", "baseline": "middle"},
        "encoding": {"text": {"field": "t"}, "x": {"datum": 0.498, "type": "quantitative", "scale": {"domain": [0, 1], "nice": false, "zero": false}, "axis": null}, "y": {"datum": 0.839, "type": "quantitative", "scale": {"domain": [0, 1], "nice": false, "zero": false}, "axis": null}}}
      ]},
     {"width": 324, "height": 97,
      "resolve": {"scale": {"x": "independent", "y": "independent"}},
      "layer": [
       {"data": {"name": "hist"}, "transform": [{"filter": "datum.ex === 2 && datum.c === 'b'"}],
        "mark": {"type": "rect", "fill": "#C64FA7", "stroke": "#ffffff", "strokeWidth": 0.7, "strokeOpacity": 0.5},
        "encoding": {
         "x": {"field": "s", "type": "quantitative", "scale": {"domain": [-11, 2613], "nice": false, "zero": false}, "axis": {"values": [0,250,500,750,1000,1250,1500,1750,2000,2250,2500], "labels": false, "title": null}},
         "x2": {"field": "e"},
         "y": {"field": "n", "type": "quantitative", "scale": {"domain": [0, 22461], "nice": false}, "axis": {"values": [0,2500,5000,7500,10000,12500,15000,17500,20000], "labelOverlap": false, "labelExpr": "datum.value % 5000 === 0 ? format(datum.value, ',') : ''", "title": null}},
         "y2": {"datum": 0}}},
       {"data": {"values": [{"t": "MACS broad"}]}, "mark": {"type": "text", "fontSize": 16, "color": "#111111", "align": "center", "baseline": "middle"},
        "encoding": {"text": {"field": "t"}, "x": {"datum": 0.497, "type": "quantitative", "scale": {"domain": [0, 1], "nice": false, "zero": false}, "axis": null}, "y": {"datum": 0.801, "type": "quantitative", "scale": {"domain": [0, 1], "nice": false, "zero": false}, "axis": null}}}
      ]},
     {"width": 324, "height": 97,
      "resolve": {"scale": {"x": "independent", "y": "independent"}},
      "layer": [
       {"data": {"name": "hist"}, "transform": [{"filter": "datum.ex === 2 && datum.c === 'g'"}],
        "mark": {"type": "rect", "fill": "#FBB62F", "stroke": "#ffffff", "strokeWidth": 0.7, "strokeOpacity": 0.5},
        "encoding": {
         "x": {"field": "s", "type": "quantitative", "scale": {"domain": [-11, 2613], "nice": false, "zero": false}, "axis": {"values": [0,250,500,750,1000,1250,1500,1750,2000,2250,2500], "labelOverlap": false, "labelExpr": "datum.value % 500 === 0 ? format(datum.value, ',') : ''", "title": "Peak size (bp)"}},
         "x2": {"field": "e"},
         "y": {"field": "n", "type": "quantitative", "scale": {"domain": [0, 33563], "nice": false}, "axis": {"values": [0,5000,10000,15000,20000,25000,30000], "labelOverlap": false, "labelExpr": "datum.value % 10000 === 0 && datum.value < 30000 ? format(datum.value, ',') : ''", "title": null}},
         "y2": {"datum": 0}}},
       {"data": {"values": [{"t": "Genrich"}]}, "mark": {"type": "text", "fontSize": 16, "color": "#111111", "align": "center", "baseline": "middle"},
        "encoding": {"text": {"field": "t"}, "x": {"datum": 0.502, "type": "quantitative", "scale": {"domain": [0, 1], "nice": false, "zero": false}, "axis": null}, "y": {"datum": 0.811, "type": "quantitative", "scale": {"domain": [0, 1], "nice": false, "zero": false}, "axis": null}}}
      ]}
    ]
   },
   {
    "title": {"text": "e", "anchor": "start", "frame": "bounds", "font": "Lato", "fontWeight": 900, "fontSize": 19, "offset": 4},
    "spacing": 24, "bounds": "flush",
    "vconcat": [
     {"width": 324, "height": 89,
      "title": {"text": "Example 3", "anchor": "start", "frame": "group", "offset": 0},
      "resolve": {"scale": {"x": "independent", "y": "independent"}},
      "layer": [
       {"data": {"name": "hist"}, "transform": [{"filter": "datum.ex === 3 && datum.c === 'n'"}],
        "mark": {"type": "rect", "fill": "#5EBB0C", "stroke": "#ffffff", "strokeWidth": 0.7, "strokeOpacity": 0.5},
        "encoding": {
         "x": {"field": "s", "type": "quantitative", "scale": {"domain": [0, 2615], "nice": false, "zero": false}, "axis": {"values": [0,250,500,750,1000,1250,1500,1750,2000,2250,2500], "labels": false, "title": null}},
         "x2": {"field": "e"},
         "y": {"field": "n", "type": "quantitative", "scale": {"domain": [0, 22532], "nice": false}, "axis": {"values": [0,2500,5000,7500,10000,12500,15000,17500,20000,22500], "labelOverlap": false, "labelExpr": "datum.value % 5000 === 0 ? format(datum.value, ',') : ''", "title": null}},
         "y2": {"datum": 0}}},
       {"data": {"values": [{"t": "MACS narrow"}]}, "mark": {"type": "text", "fontSize": 16, "color": "#111111", "align": "center", "baseline": "middle"},
        "encoding": {"text": {"field": "t"}, "x": {"datum": 0.643, "type": "quantitative", "scale": {"domain": [0, 1], "nice": false, "zero": false}, "axis": null}, "y": {"datum": 0.831, "type": "quantitative", "scale": {"domain": [0, 1], "nice": false, "zero": false}, "axis": null}}}
      ]},
     {"width": 324, "height": 89,
      "resolve": {"scale": {"x": "independent", "y": "independent"}},
      "layer": [
       {"data": {"name": "hist"}, "transform": [{"filter": "datum.ex === 3 && datum.c === 'b'"}],
        "mark": {"type": "rect", "fill": "#C64FA7", "stroke": "#ffffff", "strokeWidth": 0.7, "strokeOpacity": 0.5},
        "encoding": {
         "x": {"field": "s", "type": "quantitative", "scale": {"domain": [0, 2615], "nice": false, "zero": false}, "axis": {"values": [0,250,500,750,1000,1250,1500,1750,2000,2250,2500], "labels": false, "title": null}},
         "x2": {"field": "e"},
         "y": {"field": "n", "type": "quantitative", "scale": {"domain": [0, 19619], "nice": false}, "axis": {"values": [0,2500,5000,7500,10000,12500,15000,17500], "labelOverlap": false, "labelExpr": "datum.value % 5000 === 0 ? format(datum.value, ',') : ''", "title": null}},
         "y2": {"datum": 0}}},
       {"data": {"values": [{"t": "MACS broad"}]}, "mark": {"type": "text", "fontSize": 16, "color": "#111111", "align": "center", "baseline": "middle"},
        "encoding": {"text": {"field": "t"}, "x": {"datum": 0.645, "type": "quantitative", "scale": {"domain": [0, 1], "nice": false, "zero": false}, "axis": null}, "y": {"datum": 0.88, "type": "quantitative", "scale": {"domain": [0, 1], "nice": false, "zero": false}, "axis": null}}}
      ]},
     {"width": 324, "height": 89,
      "resolve": {"scale": {"x": "independent", "y": "independent"}},
      "layer": [
       {"data": {"name": "hist"}, "transform": [{"filter": "datum.ex === 3 && datum.c === 'g'"}],
        "mark": {"type": "rect", "fill": "#FBB62F", "stroke": "#ffffff", "strokeWidth": 0.7, "strokeOpacity": 0.5},
        "encoding": {
         "x": {"field": "s", "type": "quantitative", "scale": {"domain": [0, 2615], "nice": false, "zero": false}, "axis": {"values": [0,250,500,750,1000,1250,1500,1750,2000,2250,2500], "labelOverlap": false, "labelExpr": "datum.value % 500 === 0 ? format(datum.value, ',') : ''", "title": "Peak size (bp)"}},
         "x2": {"field": "e"},
         "y": {"field": "n", "type": "quantitative", "scale": {"domain": [0, 9773], "nice": false}, "axis": {"values": [0,1250,2500,3750,5000,6250,7500,8750], "labelOverlap": false, "labelExpr": "datum.value % 2500 === 0 ? format(datum.value, ',') : ''", "title": null}},
         "y2": {"datum": 0}}},
       {"data": {"values": [{"t": "Genrich"}]}, "mark": {"type": "text", "fontSize": 16, "color": "#111111", "align": "center", "baseline": "middle"},
        "encoding": {"text": {"field": "t"}, "x": {"datum": 0.648, "type": "quantitative", "scale": {"domain": [0, 1], "nice": false, "zero": false}, "axis": null}, "y": {"datum": 0.888, "type": "quantitative", "scale": {"domain": [0, 1], "nice": false, "zero": false}, "axis": null}}}
      ]}
    ]
   }
  ]
 },
 {
  "width": 1233, "height": 400,
  "data": {"name": "caption"},
  "encoding": {
   "text": {"field": "t"},
   "x": {"field": "x", "type": "quantitative", "scale": {"domain": [0, 1233], "nice": false, "zero": false}, "axis": null},
   "y": {"field": "l", "type": "quantitative", "scale": {"domain": [-0.607, 16.306], "nice": false, "zero": false, "reverse": true}, "axis": null}
  },
  "layer": [
   {"transform": [{"filter": "datum.k === 'body'"}], "mark": {"type": "text", "font": "Lato", "fontSize": 18, "color": "#231F20", "align": "left", "baseline": "alphabetic"}},
   {"transform": [{"filter": "datum.k === 'bold'"}], "mark": {"type": "text", "font": "Lato", "fontWeight": "bold", "fontSize": 18, "color": "#231F20", "align": "left", "baseline": "alphabetic"}},
   {"transform": [{"filter": "datum.k === 'link'"}], "mark": {"type": "text", "font": "Lato", "fontSize": 18, "color": "#3D72B4", "align": "left", "baseline": "alphabetic"}},
   {"transform": [{"filter": "datum.k === 'mono'"}], "mark": {"type": "text", "font": "Liberation Mono", "fontSize": 18, "color": "#333333", "align": "left", "baseline": "alphabetic"}},
   {"transform": [{"filter": "datum.k === 'sup'"}], "mark": {"type": "text", "font": "Lato", "fontSize": 11.5, "color": "#3D72B4", "align": "left", "baseline": "alphabetic", "dy": -7}}
  ]
 },
 {
  "width": 1233, "height": 200,
  "layer": [
   {"data": {"values": [{"t": "NATURE PROTOCOLS", "x": 1, "y": 158.4}]},
    "mark": {"type": "text", "font": "Lato", "fontWeight": "bold", "fontSize": 16, "color": "#522E78", "align": "left", "baseline": "middle"},
    "encoding": {"text": {"field": "t"}, "x": {"field": "x", "type": "quantitative", "scale": {"domain": [0, 1233], "nice": false, "zero": false}, "axis": null}, "y": {"field": "y", "type": "quantitative", "scale": {"domain": [0, 200], "nice": false, "zero": false, "reverse": true}, "axis": null}}},
   {"data": {"values": [{"t": "|VOL 16|DECEMBER 2021|5377–5397|", "x": 165, "y": 158.4}]},
    "mark": {"type": "text", "font": "Lato", "fontSize": 16, "color": "#231F20", "align": "left", "baseline": "middle"},
    "encoding": {"text": {"field": "t"}, "x": {"field": "x", "type": "quantitative", "scale": {"domain": [0, 1233], "nice": false, "zero": false}, "axis": null}, "y": {"field": "y", "type": "quantitative", "scale": {"domain": [0, 200], "nice": false, "zero": false, "reverse": true}, "axis": null}}},
   {"data": {"values": [{"t": "www.nature.com/nprot", "x": 450, "y": 158.4}]},
    "mark": {"type": "text", "font": "Lato", "fontSize": 16, "color": "#3D72B4", "align": "left", "baseline": "middle"},
    "encoding": {"text": {"field": "t"}, "x": {"field": "x", "type": "quantitative", "scale": {"domain": [0, 1233], "nice": false, "zero": false}, "axis": null}, "y": {"field": "y", "type": "quantitative", "scale": {"domain": [0, 200], "nice": false, "zero": false, "reverse": true}, "axis": null}}},
   {"data": {"values": [{"t": "5391", "x": 1233, "y": 158.4}]},
    "mark": {"type": "text", "font": "Lato", "fontWeight": "bold", "fontSize": 16, "color": "#111111", "align": "right", "baseline": "middle"},
    "encoding": {"text": {"field": "t"}, "x": {"field": "x", "type": "quantitative", "scale": {"domain": [0, 1233], "nice": false, "zero": false}, "axis": null}, "y": {"field": "y", "type": "quantitative", "scale": {"domain": [0, 200], "nice": false, "zero": false, "reverse": true}, "axis": null}}}
  ]
 }
]
}
